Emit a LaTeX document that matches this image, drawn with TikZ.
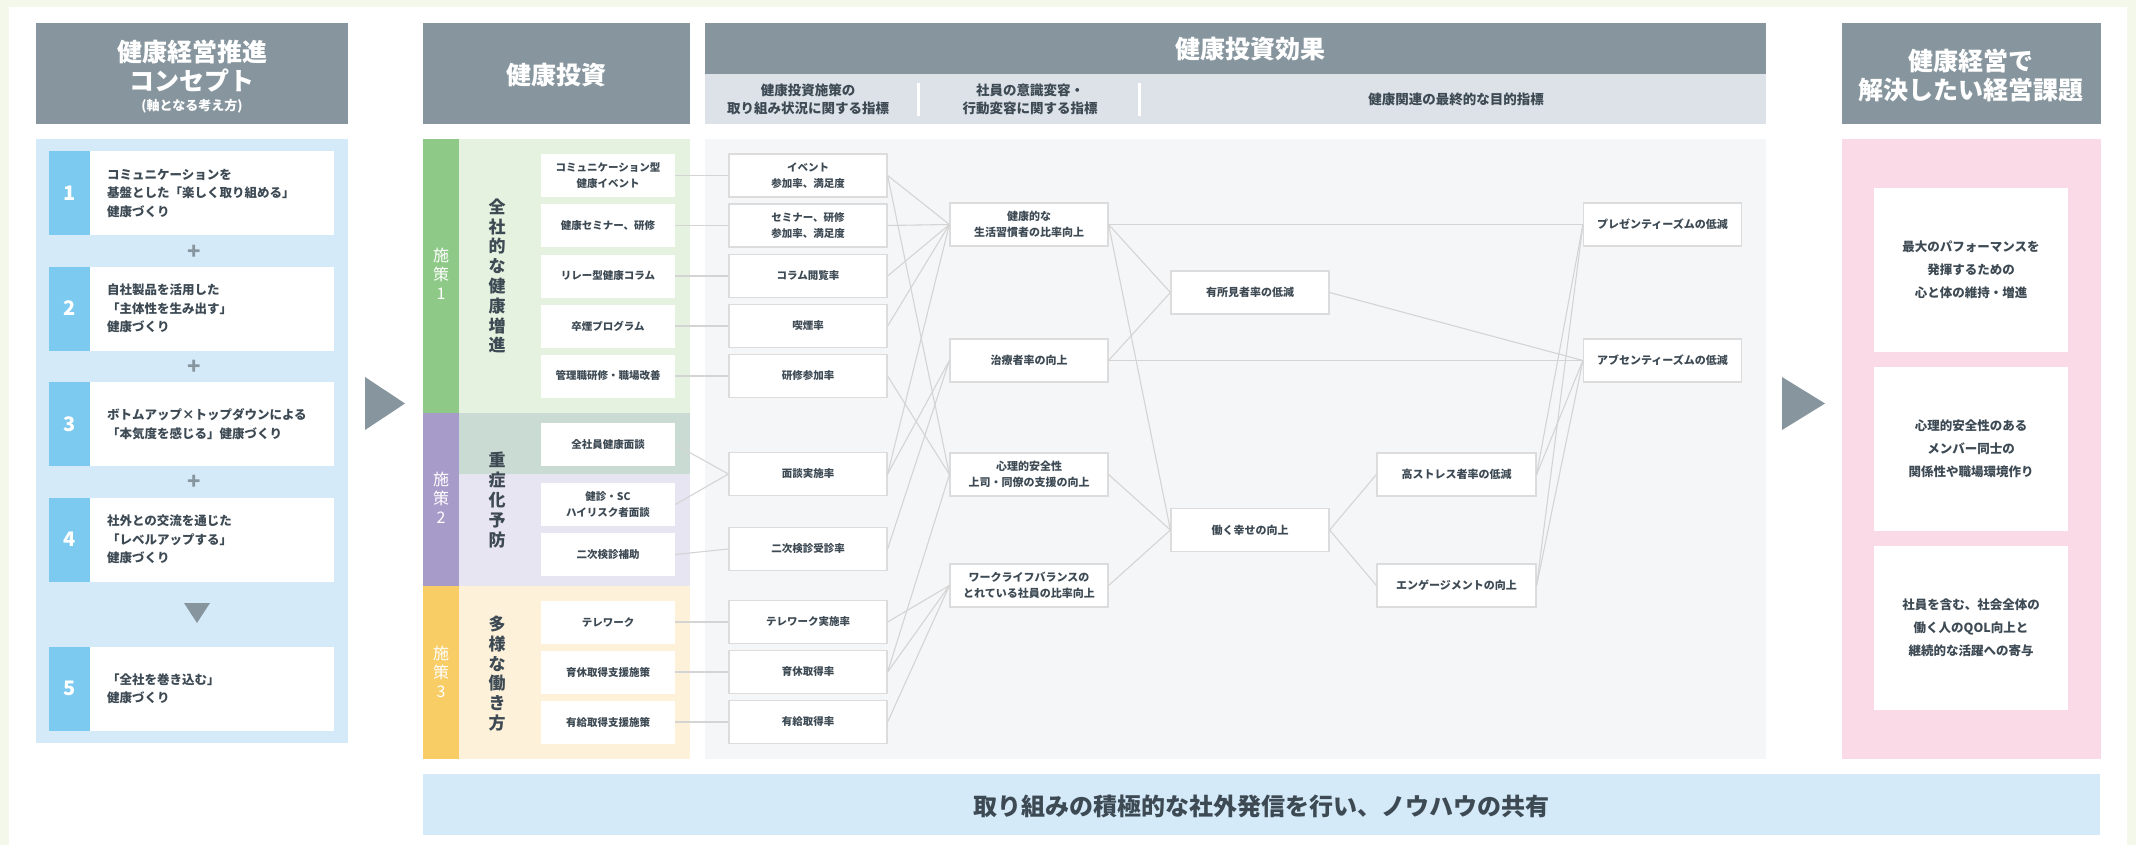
\documentclass[tikz,border=0pt]{standalone}
\usepackage{fontspec}
\setmainfont{Noto Sans CJK JP}
\definecolor{pagebg}{HTML}{F3F8EB}
\definecolor{hdrgray}{HTML}{87969E}
\definecolor{subgray}{HTML}{DCE2E7}
\definecolor{lblue}{HTML}{D4EAF8}
\definecolor{numblue}{HTML}{7CCAF0}
\definecolor{txt}{HTML}{3D4A54}
\definecolor{tgreen}{HTML}{8EC987}
\definecolor{lgreen}{HTML}{E6F2E0}
\definecolor{tpurple}{HTML}{A79BC9}
\definecolor{lpurple}{HTML}{E8E5F2}
\definecolor{overlap}{HTML}{C9DBD3}
\definecolor{tyellow}{HTML}{F9CD66}
\definecolor{lyellow}{HTML}{FDF1DA}
\definecolor{effbg}{HTML}{F4F6F8}
\definecolor{pink}{HTML}{F9DAE6}
\definecolor{bordergray}{HTML}{DCDCDC}
\definecolor{linegray}{HTML}{D4D4D4}
\newcommand{\myfs}[2]{\fontsize{#1}{#2}\selectfont}
\tikzset{
  hdrtext/.style={text=white, font=\myfs{25}{29}\bfseries, align=center, inner sep=0},
  subtext/.style={text=txt, font=\myfs{13.5}{18}\bfseries, align=center, inner sep=0},
  numbox/.style={fill=numblue, text=white, minimum width=41pt, minimum height=84pt, inner sep=0, font=\myfs{20}{24}\bfseries},
  cbox/.style={fill=white, text=txt, minimum height=84pt, text width=210pt, inner xsep=17pt, inner ysep=0, align=left, font=\myfs{12.5}{18.5}\bfseries},
  ibox/.style={fill=white, text=txt, minimum width=134pt, minimum height=43pt, inner sep=0, align=center, font=\myfs{10.5}{16}\bfseries},
  abox/.style={fill=white, draw=bordergray, line width=1.2pt, text=txt, minimum width=158pt, minimum height=43pt, inner sep=0, align=center, font=\myfs{10.5}{16}\bfseries},
  bbox/.style={abox, font=\myfs{11}{16.5}\bfseries},
  pbox/.style={fill=white, text=txt, minimum width=194pt, minimum height=164pt, inner sep=0, align=center, font=\myfs{12.5}{23}\bfseries},
  vtitle/.style={text=txt, align=center, inner sep=0, font=\myfs{17}{19.8}\bfseries},
  tagtext/.style={text=white, align=center, inner sep=0, font=\myfs{16}{19}},
  plus/.style={text=hdrgray, font=\myfs{22}{22}\bfseries, inner sep=0},
  conn/.style={draw=linegray, line width=1.1pt},
  tri/.style={fill=hdrgray, draw=none}
}
\begin{document}
\begin{tikzpicture}[x=1pt, y=-1pt]
\useasboundingbox (0,0) rectangle (2136,845);
% page background
\fill[pagebg] (0,0) rectangle (2136,845);
\fill[white] (9,7) rectangle (2127,845);

% ===== Column 1: concept =====
\node[fill=hdrgray, minimum width=312pt, minimum height=101pt, inner sep=0] (h1) at (192,73.5) {};
\node[hdrtext] (h1a) at (192,52) {健康経営推進};
\node[hdrtext] (h1b) at (192,81) {コンセプト};
\node[text=white, font=\myfs{13}{15}\bfseries, inner sep=0] (h1c) at (192,106) {(軸となる考え方)};
\fill[lblue] (36,139) rectangle (348,743);

\node[numbox] (n1) at (69.5,193) {1};
\node[cbox] (k1) at (212,193) {コミュニケーションを\\基盤とした「楽しく取り組める」\\健康づくり};
\node[plus] (pl1) at (194,252) {+};
\node[numbox] (n2) at (69.5,308.5) {2};
\node[cbox] (k2) at (212,308.5) {自社製品を活用した\\「主体性を生み出す」\\健康づくり};
\node[plus] (pl2) at (194,367) {+};
\node[numbox] (n3) at (69.5,424) {3};
\node[cbox] (k3) at (212,424) {ボトムアップ×トップダウンによる\\「本気度を感じる」健康づくり};
\node[plus] (pl3) at (194,482) {+};
\node[numbox] (n4) at (69.5,539.5) {4};
\node[cbox] (k4) at (212,539.5) {社外との交流を通じた\\「レベルアップする」\\健康づくり};
\fill[tri] (184,603) -- (210,603) -- (197,623) -- cycle;
\node[numbox] (n5) at (69.5,688.5) {5};
\node[cbox] (k5) at (212,688.5) {「全社を巻き込む」\\健康づくり};

% arrow 1
\fill[tri] (365,377) -- (405,403.5) -- (365,430) -- cycle;

% ===== Column 2: investment =====
\node[fill=hdrgray, minimum width=267pt, minimum height=101pt, inner sep=0] (h2) at (556.5,73.5) {};
\node[hdrtext] (h2a) at (556.5,75) {健康投資};
% tag strips
\fill[tgreen] (423,139) rectangle (459,413);
\fill[tpurple] (423,413) rectangle (459,586);
\fill[tyellow] (423,586) rectangle (459,759);
\fill[lgreen] (459,139) rectangle (690,413);
\fill[overlap] (459,413) rectangle (690,474);
\fill[lpurple] (459,474) rectangle (690,586);
\fill[lyellow] (459,586) rectangle (690,759);
\node[tagtext] (t1) at (441,274) {施\\策\\1};
\node[tagtext] (t2) at (441,498) {施\\策\\2};
\node[tagtext] (t3) at (441,672) {施\\策\\3};
\node[vtitle] (v1) at (497,276) {全\\社\\的\\な\\健\\康\\増\\進};
\node[vtitle] (v2) at (497,500) {重\\症\\化\\予\\防};
\node[vtitle] (v3) at (497,673.5) {多\\様\\な\\働\\き\\方};

\node[ibox] (i1) at (608,175.5) {コミュニケーション型\\健康イベント};
\node[ibox] (i2) at (608,225.5) {健康セミナー、研修};
\node[ibox] (i3) at (608,276) {リレー型健康コラム};
\node[ibox] (i4) at (608,326) {卒煙プログラム};
\node[ibox] (i5) at (608,376) {管理職研修・職場改善};
\node[ibox] (i6) at (608,444.5) {全社員健康面談};
\node[ibox] (i7) at (608,504.5) {健診・SC\\ハイリスク者面談};
\node[ibox] (i8) at (608,554.5) {二次検診補助};
\node[ibox] (i9) at (608,622) {テレワーク};
\node[ibox] (i10) at (608,672) {育休取得支援施策};
\node[ibox] (i11) at (608,722) {有給取得支援施策};

% ===== Column 3: effects =====
\node[fill=hdrgray, minimum width=1061pt, minimum height=51pt, inner sep=0] (h3) at (1235.5,48.5) {};
\node[hdrtext] (h3a) at (1250,49) {健康投資効果};
\node[fill=subgray, minimum width=1061pt, minimum height=50pt, inner sep=0] (s3) at (1235.5,99) {};
\fill[white] (917,83) rectangle (920,116);
\fill[white] (1138,83) rectangle (1141,116);
\node[subtext] (s3a) at (808,99) {健康投資施策の\\取り組み状況に関する指標};
\node[subtext] (s3b) at (1030,99) {社員の意識変容・\\行動変容に関する指標};
\node[subtext] (s3c) at (1456,99) {健康関連の最終的な目的指標};
\fill[effbg] (705,139) rectangle (1766,759);

\node[abox] (a1) at (808,175.5) {イベント\\参加率、満足度};
\node[abox] (a2) at (808,225.5) {セミナー、研修\\参加率、満足度};
\node[abox] (a3) at (808,276) {コラム閲覧率};
\node[abox] (a4) at (808,326) {喫煙率};
\node[abox] (a5) at (808,376) {研修参加率};
\node[abox] (a6) at (808,474) {面談実施率};
\node[abox] (a7) at (808,549) {二次検診受診率};
\node[abox] (a8) at (808,622) {テレワーク実施率};
\node[abox] (a9) at (808,672) {育休取得率};
\node[abox] (a10) at (808,722) {有給取得率};

\node[bbox] (b1) at (1029,224.5) {健康的な\\生活習慣者の比率向上};
\node[bbox] (b2) at (1029,360.5) {治療者率の向上};
\node[bbox] (b3) at (1029,474.5) {心理的安全性\\上司・同僚の支援の向上};
\node[bbox] (b4) at (1029,585.5) {ワークライフバランスの\\とれている社員の比率向上};

\node[bbox] (c1) at (1250,292.5) {有所見者率の低減};
\node[bbox] (c2) at (1250,530) {働く幸せの向上};

\node[bbox, minimum width=159pt] (d1) at (1456.5,474.5) {高ストレス者率の低減};
\node[bbox, minimum width=159pt] (d2) at (1456.5,585.5) {エンゲージメントの向上};

\node[bbox] (e1) at (1662.5,224.5) {プレゼンティーズムの低減};
\node[bbox] (e2) at (1662.5,360.5) {アブセンティーズムの低減};

% connectors
\draw[conn] (i1.east) -- (a1.west);
\draw[conn] (i2.east) -- (a2.west);
\draw[conn] (i3.east) -- (a3.west);
\draw[conn] (i4.east) -- (a4.west);
\draw[conn] (i5.east) -- (a5.west);
\draw[conn] (i6.east) -- (a6.west);
\draw[conn] (i7.east) -- (a6.west);
\draw[conn] (i8.east) -- (a7.west);
\draw[conn] (i9.east) -- (a8.west);
\draw[conn] (i10.east) -- (a9.west);
\draw[conn] (i11.east) -- (a10.west);

\draw[conn] (a1.east) -- (b1.west);
\draw[conn] (a1.east) -- (b3.west);
\draw[conn] (a2.east) -- (b1.west);
\draw[conn] (a3.east) -- (b1.west);
\draw[conn] (a4.east) -- (b1.west);
\draw[conn] (a5.east) -- (b3.west);
\draw[conn] (a6.east) -- (b1.west);
\draw[conn] (a6.east) -- (b2.west);
\draw[conn] (a7.east) -- (b2.west);
\draw[conn] (a8.east) -- (b4.west);
\draw[conn] (a9.east) -- (b4.west);
\draw[conn] (a9.east) -- (b3.west);
\draw[conn] (a10.east) -- (b4.west);

\draw[conn] (b1.east) -- (e1.west);
\draw[conn] (b1.east) -- (c1.west);
\draw[conn] (b1.east) -- (c2.west);
\draw[conn] (b2.east) -- (c1.west);
\draw[conn] (b2.east) -- (e2.west);
\draw[conn] (c1.east) -- (e2.west);
\draw[conn] (b3.east) -- (c2.west);
\draw[conn] (b4.east) -- (c2.west);
\draw[conn] (c2.east) -- (d1.west);
\draw[conn] (c2.east) -- (d2.west);
\draw[conn] (d1.east) -- (e1.west);
\draw[conn] (d1.east) -- (e2.west);
\draw[conn] (d2.east) -- (e1.west);
\draw[conn] (d2.east) -- (e2.west);

% arrow 2
\fill[tri] (1782,377) -- (1825,403.5) -- (1782,430) -- cycle;

% ===== Column 4: management issues =====
\node[fill=hdrgray, minimum width=259pt, minimum height=101pt, inner sep=0] (h4) at (1971,73.5) {};
\node[hdrtext] (h4a) at (1971,76) {健康経営で\\解決したい経営課題};
\fill[pink] (1841.5,139) rectangle (2100.5,759);
\node[pbox] (p1) at (1971,270) {最大のパフォーマンスを\\発揮するための\\心と体の維持・増進};
\node[pbox] (p2) at (1971,449) {心理的安全性のある\\メンバー同士の\\関係性や職場環境作り};
\node[pbox] (p3) at (1971,628) {社員を含む、社会全体の\\働く人のQOL向上と\\継続的な活躍への寄与};

% ===== Bottom banner =====
\node[fill=lblue, minimum width=1677pt, minimum height=61pt, inner sep=0] (bn) at (1261.5,804.5) {};
\node[text=txt, font=\myfs{24}{28}\bfseries, inner sep=0] (bnt) at (1261,806) {取り組みの積極的な社外発信を行い、ノウハウの共有};
\end{tikzpicture}
\end{document}
